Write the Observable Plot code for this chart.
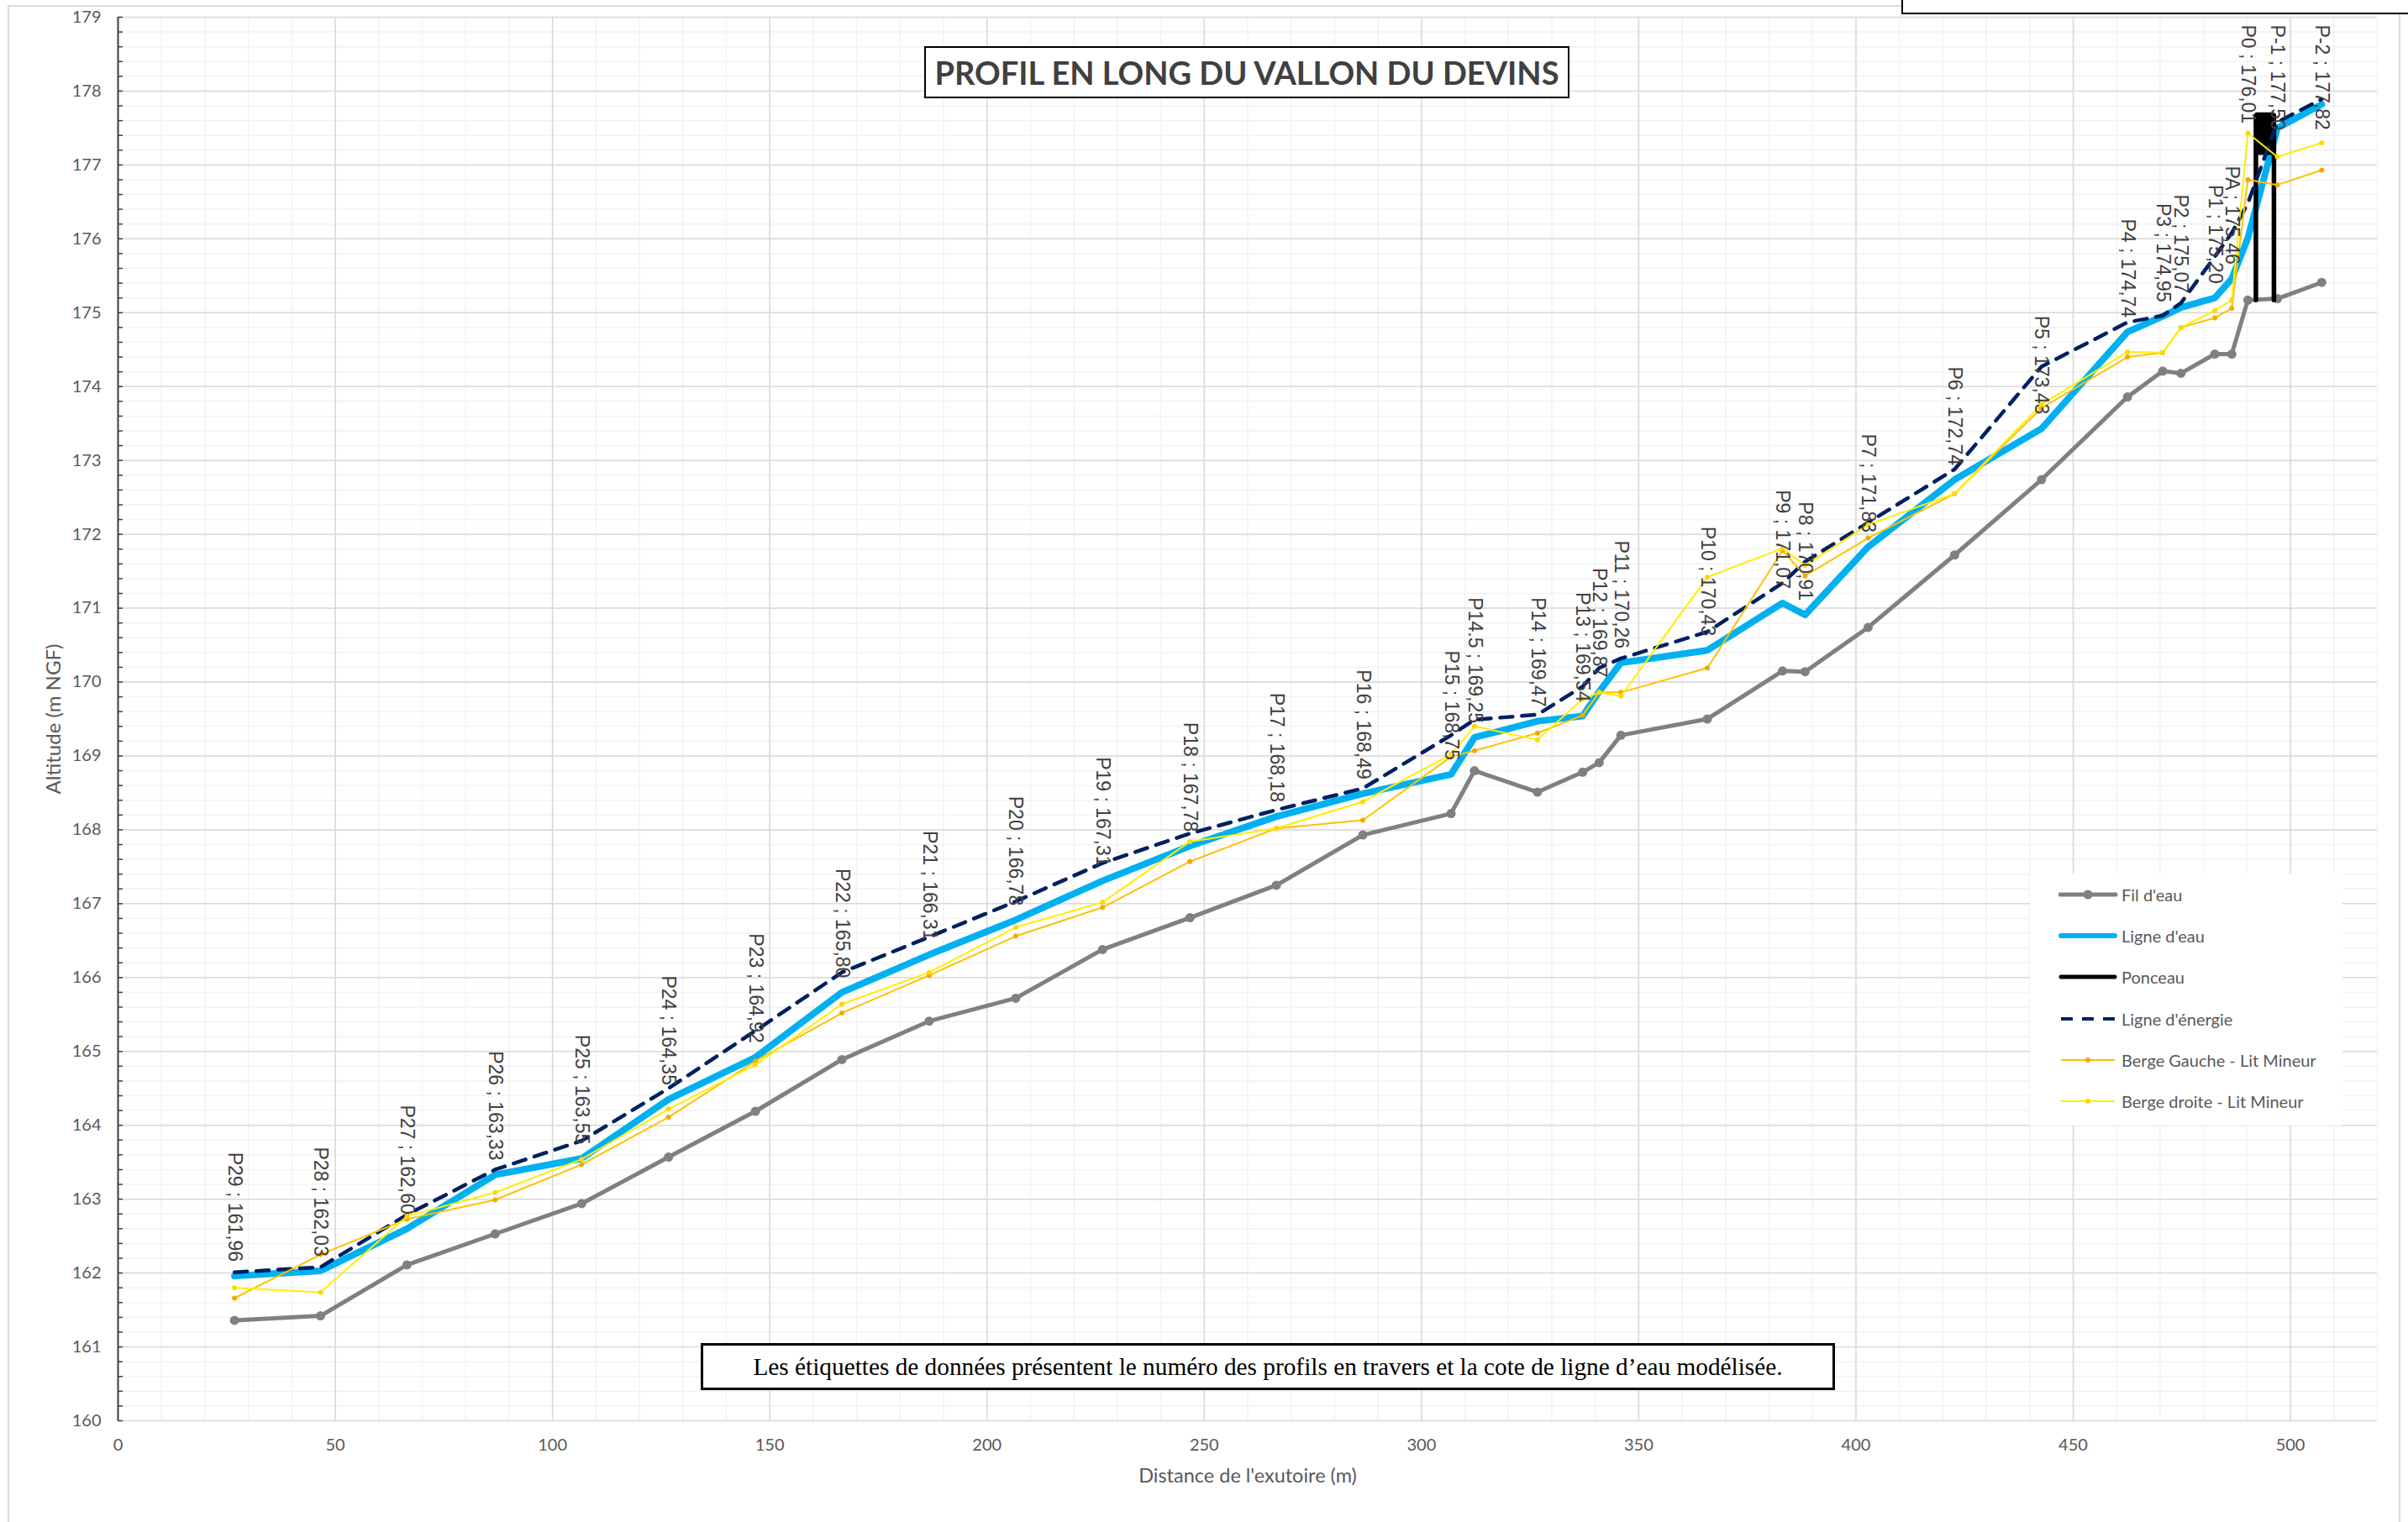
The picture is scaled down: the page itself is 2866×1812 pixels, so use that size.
<!DOCTYPE html>
<html lang="fr">
<head>
<meta charset="utf-8">
<title>Profil en long du vallon du Devins</title>
<script src="https://cdn.jsdelivr.net/npm/d3@7"></script>
<script src="https://cdn.jsdelivr.net/npm/@observablehq/plot@0.6"></script>
<style>
  html, body { margin: 0; padding: 0; background: #fff; }
  #page { position: relative; width: 2866px; height: 1812px; overflow: hidden; background: #fff; font-family: Lato, "Open Sans", sans-serif; }
  #cadre { position: absolute; left: 9px; top: 6px; width: 2848px; height: 1812px; border: 2px solid #d9d9d9; box-sizing: border-box; }
  #chart { position: absolute; left: 0; top: 0; }
  #titre { position: absolute; left: 1100px; top: 55px; width: 768px; height: 62px; border: 2px solid #000; box-sizing: border-box;
           display: flex; align-items: center; justify-content: center; font-family: Lato; font-weight: bold; font-size: 38px; color: #404040; background: #fff; }
  #note { position: absolute; left: 834px; top: 1599px; width: 1350px; height: 56px; border: 3px solid #000; box-sizing: border-box;
          display: flex; align-items: center; justify-content: center; font-family: "Liberation Serif", serif; font-size: 29.3px; color: #000; background: #fff; }
  #encart { position: absolute; left: 2263px; top: -20px; width: 640px; height: 37px; border: 2px solid #000; box-sizing: border-box; background: #fff; }
  #legende { position: absolute; left: 2416px; top: 1040px; width: 372px; height: 300px; background: #fff; }
  .item { position: absolute; left: 0; height: 30px; display: flex; align-items: center; }
  .item svg { margin-left: 34px; width: 72px; height: 30px; }
  .item span { margin-left: 3px; font-family: Lato; font-size: 20px; color: #595959; white-space: nowrap; }
</style>
</head>
<body>
<div id="page">
  <div id="cadre"></div>
  <div id="chart"></div>
  <div id="titre">PROFIL EN LONG DU VALLON DU DEVINS</div>
  <div id="note">Les étiquettes de données présentent le numéro des profils en travers et la cote de ligne d’eau modélisée.</div>
  <div id="encart"></div>
  <div id="legende"></div>
</div>
<script>
// Profils en travers, de l'aval (exutoire) vers l'amont
const profils = ["P29", "P28", "P27", "P26", "P25", "P24", "P23", "P22", "P21", "P20",
  "P19", "P18", "P17", "P16", "P15", "P14.5", "P14", "P13", "P12", "P11",
  "P10", "P9", "P8", "P7", "P6", "P5", "P4", "P3", "P2", "P1", "PA", "P0", "P-1", "P-2"];

// Distance de l'exutoire (m)
const distance = [26.8, 46.6, 66.5, 86.8, 106.7, 126.7, 146.7, 166.6, 186.7, 206.6,
  226.6, 246.7, 266.6, 286.5, 306.8, 312.2, 326.7, 337.1, 340.9, 345.9,
  365.8, 383.1, 388.3, 402.8, 422.7, 442.7, 462.5, 470.6, 474.8, 482.6, 486.5, 490.2, 497.0, 507.2];

// Fil d'eau (m NGF)
const filEau = [161.36, 161.42, 162.11, 162.53, 162.94, 163.57, 164.19, 164.89, 165.41, 165.72,
  166.38, 166.81, 167.25, 167.93, 168.22, 168.80, 168.51, 168.78, 168.91, 169.28,
  169.50, 170.15, 170.14, 170.74, 171.72, 172.74, 173.86, 174.21, 174.18, 174.44, 174.44, 175.17, 175.19, 175.41];

// Ligne d'eau modélisée (m NGF)
const ligneEau = [161.96, 162.03, 162.60, 163.33, 163.55, 164.35, 164.92, 165.80, 166.31, 166.78,
  167.31, 167.78, 168.18, 168.49, 168.75, 169.25, 169.47, 169.54, 169.87, 170.26,
  170.43, 171.07, 170.91, 171.83, 172.74, 173.43, 174.74, 174.95, 175.07, 175.20, 175.46, 176.01, 177.50, 177.82];

// Ligne d'énergie (m NGF)
const ligneEnergie = [162.01, 162.08, 162.79, 163.40, 163.79, 164.50, 165.28, 166.07, 166.55, 167.03,
  167.55, 167.95, 168.27, 168.56, 169.28, 169.49, 169.56, 169.94, 170.19, 170.32,
  170.68, 171.34, 171.63, 172.16, 172.88, 174.27, 174.87, 174.96, 175.13, 175.76, 176.08, 176.48, 177.58, 177.89];

// Berge gauche - lit mineur (m NGF)
const bergeGauche = [161.66, 162.25, 162.73, 162.99, 163.47, 164.11, 164.87, 165.52, 166.03, 166.56,
  166.95, 167.57, 168.02, 168.13, 168.99, 169.07, 169.31, 169.55, 169.86, 169.86,
  170.19, 171.78, 171.44, 171.95, 172.55, 173.71, 174.40, 174.46, 174.80, 174.93, 175.06, 176.80, 176.73, 176.93];

// Berge droite - lit mineur (m NGF)
const bergeDroite = [161.80, 161.74, 162.77, 163.09, 163.54, 164.22, 164.82, 165.64, 166.07, 166.68,
  167.02, 167.84, 168.02, 168.38, 169.02, 169.40, 169.22, 169.77, 169.86, 169.81,
  171.42, 171.81, 171.58, 172.13, 172.55, 173.76, 174.47, 174.46, 174.80, 175.03, 175.17, 177.43, 177.11, 177.30];

// Ponceau : abscisses des deux têtes et cotes radier / sous-face / dessus
const ponceauX = [492.05, 496.2];
const ponceauRadier = 175.17;
const ponceauSousFace = 177.13;
const ponceauDessus = 177.68;

// Graduations
const xTicks = d3.range(0, 501, 50);
const xMinor = d3.range(0, 521, 10);
const yTicks = d3.range(160, 180, 1);
const yMinor = d3.range(800, 896).map(i => i / 5);

const fmt = v => v.toFixed(2).replace(".", ",");

const rows = profils.map((p, i) => ({
  profil: p,
  x: distance[i],
  fil: filEau[i],
  eau: ligneEau[i],
  energie: ligneEnergie[i],
  bg: bergeGauche[i],
  bd: bergeDroite[i],
  label: `${p} ; ${fmt(ligneEau[i])}`
}));

// Les étiquettes au droit et en amont du ponceau sont accrochées en haut du graphique
const amont = rows.filter(d => d.x >= ponceauX[0] - 2);
const aval = rows.filter(d => d.x < ponceauX[0] - 2);

const ponceauContour = [
  {x: ponceauX[0], y: ponceauRadier},
  {x: ponceauX[0], y: ponceauDessus},
  {x: ponceauX[1], y: ponceauDessus},
  {x: ponceauX[1], y: ponceauRadier}
];

const C = {
  fil: "#808080",
  eau: "#00b0f0",
  ponceau: "#000000",
  energie: "#002060",
  bg: "#ffc000",
  bd: "#ffee00",
  bdPoint: "#ffd800",
  bgPoint: "#f5a800"
};

const labelFont = {fontFamily: "Liberation Sans", fontSize: 23, fill: "#404040"};

const chart = Plot.plot({
  width: 2866,
  height: 1812,
  marginLeft: 140,
  marginRight: 37,
  marginTop: 20,
  marginBottom: 121,
  x: {domain: [0, 520]},
  y: {domain: [160, 179]},
  style: {fontFamily: "Lato", background: "transparent", color: "#595959"},
  marks: [
    Plot.gridX(xMinor, {stroke: "#f2f2f2", strokeOpacity: 1, strokeWidth: 1.5}),
    Plot.gridY(yMinor, {stroke: "#f2f2f2", strokeOpacity: 1, strokeWidth: 1.5}),
    Plot.gridX(xTicks, {stroke: "#d9d9d9", strokeOpacity: 1, strokeWidth: 1.5}),
    Plot.gridY(yTicks, {stroke: "#d9d9d9", strokeOpacity: 1, strokeWidth: 1.5}),
    Plot.axisX(xTicks, {anchor: "bottom", tickSize: 0, tickPadding: 21, fontSize: 20, fill: "#595959", label: null, tickFormat: d => String(d)}),
    Plot.axisY(yTicks, {anchor: "left", tickSize: 0, tickPadding: 20, fontSize: 20, fill: "#595959", label: null, tickFormat: d => String(d)}),
    Plot.axisY(yMinor, {anchor: "left", tickSize: -6, fill: "none", stroke: "#404040", strokeWidth: 1.5, label: null}),
    Plot.ruleX([0], {stroke: "#404040", strokeWidth: 2}),
    Plot.text(["Distance de l'exutoire (m)"], {frameAnchor: "bottom", dy: 66, lineAnchor: "middle", textAnchor: "middle", fontSize: 23.5, fill: "#595959"}),
    Plot.text(["Altitude (m NGF)"], {frameAnchor: "left", dx: -76, rotate: -90, textAnchor: "middle", lineAnchor: "middle", fontSize: 24, fill: "#595959"}),

    // Fil d'eau
    Plot.line(rows, {x: "x", y: "fil", stroke: C.fil, strokeWidth: 5, strokeLinejoin: "round"}),
    Plot.dot(rows, {x: "x", y: "fil", r: 5.5, fill: C.fil}),
    // Ligne d'eau
    Plot.line(rows, {x: "x", y: "eau", stroke: C.eau, strokeWidth: 8, strokeLinejoin: "round", strokeLinecap: "round"}),
    // Ponceau
    Plot.rect([ponceauDessus], {x1: ponceauX[0], x2: ponceauX[1], y1: ponceauSousFace, y2: d => d, fill: C.ponceau}),
    Plot.line(ponceauContour, {x: "x", y: "y", stroke: C.ponceau, strokeWidth: 5.5, strokeLinejoin: "miter"}),
    // Ligne d'énergie
    Plot.line(rows, {x: "x", y: "energie", stroke: C.energie, strokeWidth: 4.5, strokeDasharray: "15,11"}),
    // Berges du lit mineur
    Plot.line(rows, {x: "x", y: "bg", stroke: C.bg, strokeWidth: 2}),
    Plot.dot(rows, {x: "x", y: "bg", r: 3, fill: C.bgPoint}),
    Plot.line(rows, {x: "x", y: "bd", stroke: C.bd, strokeWidth: 2}),
    Plot.dot(rows, {x: "x", y: "bd", r: 3, fill: C.bdPoint}),

    // Étiquettes : numéro de profil et cote de ligne d'eau
    Plot.text(aval, {x: "x", y: "eau", text: "label", rotate: 90, textAnchor: "end", lineAnchor: "middle", dy: -17, ...labelFont}),
    Plot.text(amont, {x: "x", frameAnchor: "top", text: "label", rotate: 90, textAnchor: "start", lineAnchor: "middle", dy: 9, ...labelFont})
  ]
});
document.getElementById("chart").appendChild(chart);

// Légende
const legende = [
  {nom: "Fil d'eau", svg: `<line x1="2" y1="15" x2="68" y2="15" stroke="${C.fil}" stroke-width="5" stroke-linecap="round"/><circle cx="35" cy="15" r="5.5" fill="${C.fil}"/>`},
  {nom: "Ligne d'eau", svg: `<line x1="3" y1="15" x2="67" y2="15" stroke="${C.eau}" stroke-width="6" stroke-linecap="round"/>`},
  {nom: "Ponceau", svg: `<line x1="3" y1="15" x2="67" y2="15" stroke="${C.ponceau}" stroke-width="5" stroke-linecap="round"/>`},
  {nom: "Ligne d'énergie", svg: `<line x1="3" y1="15" x2="68" y2="15" stroke="${C.energie}" stroke-width="4" stroke-dasharray="14,11"/>`},
  {nom: "Berge Gauche - Lit Mineur", svg: `<line x1="3" y1="15" x2="67" y2="15" stroke="${C.bg}" stroke-width="2"/><circle cx="35" cy="15" r="3" fill="${C.bgPoint}"/>`},
  {nom: "Berge droite - Lit Mineur", svg: `<line x1="3" y1="15" x2="67" y2="15" stroke="${C.bd}" stroke-width="2"/><circle cx="35" cy="15" r="3" fill="${C.bdPoint}"/>`}
];
const leg = document.getElementById("legende");
legende.forEach((d, i) => {
  const div = document.createElement("div");
  div.className = "item";
  div.style.top = (25 + i * 49.2 - 15) + "px";
  div.innerHTML = `<svg viewBox="0 0 72 30">${d.svg}</svg><span>${d.nom}</span>`;
  leg.appendChild(div);
});
</script>
</body>
</html>
